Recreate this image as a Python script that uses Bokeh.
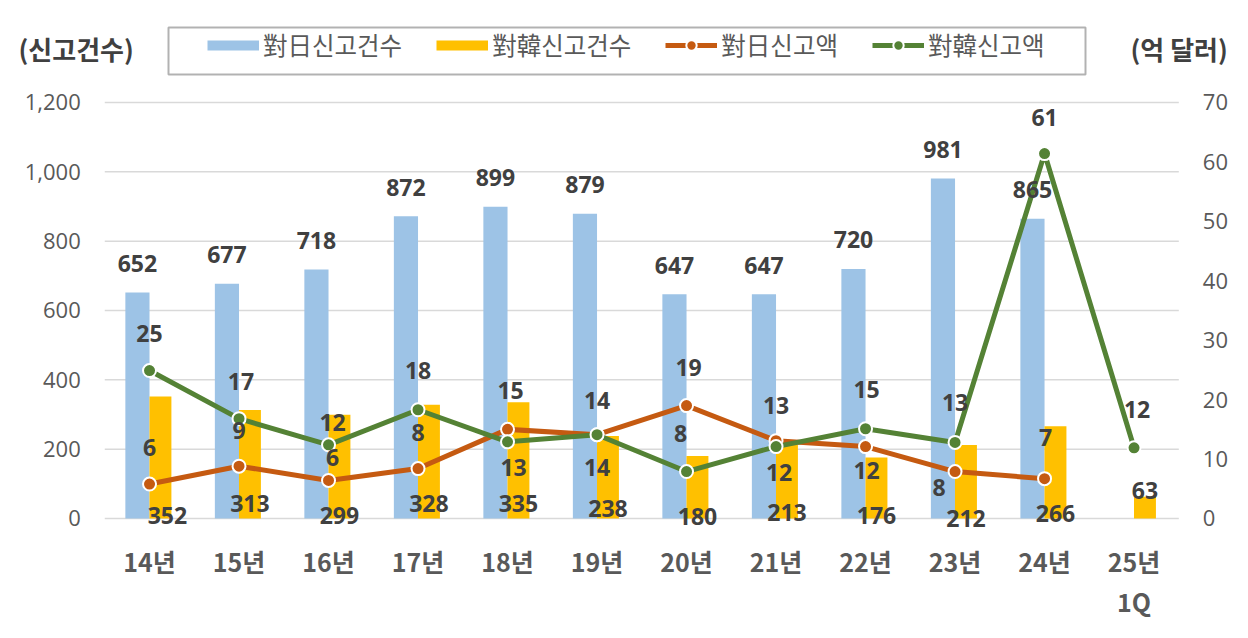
from bokeh.plotting import figure
from bokeh.models import (ColumnDataSource, Range1d, LinearAxis, NumeralTickFormatter,
                          FixedTicker, Legend, LegendItem, Label, BoxAnnotation)
from bokeh.transform import dodge
from bokeh.core.properties import value
from bokeh.embed import file_html
from bokeh.resources import INLINE

# ---------------- data ----------------
years = ["14년", "15년", "16년", "17년", "18년", "19년", "20년", "21년", "22년", "23년", "24년", "25년\n1Q"]
jp_count = [652, 677, 718, 872, 899, 879, 647, 647, 720, 981, 865]          # 對日신고건수
kr_count = [352, 313, 299, 328, 335, 238, 180, 213, 176, 212, 266, 63]     # 對韓신고건수
jp_amount = [5.8, 8.8, 6.4, 8.4, 15.0, 14.1, 19.0, 13.1, 12.1, 7.9, 6.7]   # 對日신고액 (억 달러)
kr_amount = [24.9, 16.8, 12.4, 18.3, 12.9, 14.1, 7.9, 12.1, 15.1, 12.8, 61.4, 11.9]  # 對韓신고액
left_ticks = [0, 200, 400, 600, 800, 1000, 1200]
right_ticks = [0, 10, 20, 30, 40, 50, 60, 70]
series_names = ["對日신고건수", "對韓신고건수", "對日신고액", "對韓신고액"]
left_title = "(신고건수)"
right_title = "(억 달러)"

# ---------------- label placement (style, px) ----------------
kr_count_dx = [7, 0, 0, 0, 0, 0, 0, 0, 0, 0, 0, 0]
kr_count_dy = [-3, -15, -3, -15, -15, -10, -2, -6, -3, 0, -5, -28]
jp_amt_dx = [0, 0, 4, 0, 3, 0, 2, 0, 1, -16, 1]
jp_amt_dy = [-37, -36, -23, -36, -39, -34, -38, -35, 24, 16, -41]
kr_amt_dx = [0, 2, 4, 0, 6, 0, -6, 3, 1, 0, 0, 3]
kr_amt_dy = [-37, -37, -22, -39, 26, 33, -38, 26, -39, -40, -36, -38]

BLUE = "#9DC3E6"
YELLOW = "#FFC000"
ORANGE = "#C55A11"
GREEN = "#548235"
LABEL_C = "#404040"
AXIS_C = "#595959"
GRID_C = "#D9D9D9"
KFONT = "Noto Sans CJK KR"
NFONT = "Open Sans"

N = len(years)
xs = list(range(N))

W, H = 1232, 622
p = figure(width=W, height=H, output_backend="svg", toolbar_location=None,
           x_range=Range1d(-1.665, 12.1), y_range=Range1d(-300, 1494.2),
           min_border_left=0, min_border_right=0, min_border_top=0, min_border_bottom=0)
p.extra_y_ranges = {"right": Range1d(-17.5, 87.16)}
p.outline_line_color = None
p.background_fill_color = "white"
p.border_fill_color = "white"
p.grid.visible = False

# gridlines (at the left-axis ticks, spanning the category area)
p.segment(x0=-0.5, x1=N - 0.5, y0=left_ticks, y1=left_ticks, line_color=GRID_C, line_width=1.5)

# left axis
ya = p.yaxis[0]
ya.fixed_location = -0.5
ya.ticker = FixedTicker(ticks=left_ticks)
ya.formatter = NumeralTickFormatter(format="0,0")
ya.axis_line_color = None
ya.major_tick_line_color = None
ya.major_tick_out = 0
ya.major_tick_in = 0
ya.minor_tick_line_color = None
ya.major_label_standoff = 24
ya.major_label_text_font = NFONT
ya.major_label_text_font_size = "22px"
ya.major_label_text_color = AXIS_C

# right axis
ra = LinearAxis(y_range_name="right", ticker=FixedTicker(ticks=right_ticks), fixed_location=N - 0.5)
ra.axis_line_color = None
ra.major_tick_line_color = None
ra.major_tick_out = 0
ra.major_tick_in = 0
ra.minor_tick_line_color = None
ra.major_label_standoff = 24
ra.major_label_text_font = NFONT
ra.major_label_text_font_size = "22px"
ra.major_label_text_color = AXIS_C
p.add_layout(ra, "right")

# x axis (categories)
xa = p.xaxis[0]
xa.fixed_location = 0
xa.ticker = FixedTicker(ticks=xs)
xa.major_label_overrides = {i: y for i, y in zip(xs, years)}
xa.axis_line_color = None
xa.major_tick_line_color = None
xa.major_tick_out = 0
xa.major_tick_in = 0
xa.minor_tick_line_color = None
xa.major_label_standoff = 25
xa.major_label_text_font = KFONT
xa.major_label_text_font_style = "bold"
xa.major_label_text_font_size = "25px"
xa.major_label_text_color = AXIS_C
xa.major_label_text_line_height = 1.1

# ---------------- sources ----------------
src_jp_c = ColumnDataSource(dict(x=xs[:len(jp_count)], v=jp_count, t=[str(v) for v in jp_count]))
src_kr_c = ColumnDataSource(dict(x=xs, v=kr_count, t=[str(v) for v in kr_count],
                                 zero=[0] * len(kr_count), dx=kr_count_dx, dy=kr_count_dy))
src_jp_a = ColumnDataSource(dict(x=xs[:len(jp_amount)], v=jp_amount, t=[f"{v:.0f}" for v in jp_amount],
                                 dx=jp_amt_dx, dy=jp_amt_dy))
src_kr_a = ColumnDataSource(dict(x=xs, v=kr_amount, t=[f"{v:.0f}" for v in kr_amount],
                                 dx=kr_amt_dx, dy=kr_amt_dy))

# bars
p.vbar(x=dodge("x", -0.135), top="v", width=0.27, source=src_jp_c, fill_color=BLUE, line_color=None)
p.vbar(x=dodge("x", 0.122), top="v", width=0.245, source=src_kr_c, fill_color=YELLOW, line_color=None)

# lines
l_jp = p.line(x="x", y="v", source=src_jp_a, y_range_name="right", line_color=ORANGE, line_width=5)
m_jp = p.scatter(x="x", y="v", source=src_jp_a, y_range_name="right", size=13,
                 fill_color=ORANGE, line_color="white", line_width=2)
l_kr = p.line(x="x", y="v", source=src_kr_a, y_range_name="right", line_color=GREEN, line_width=5)
m_kr = p.scatter(x="x", y="v", source=src_kr_a, y_range_name="right", size=13,
                 fill_color=GREEN, line_color="white", line_width=2)

# data labels
lab_kw = dict(text_align="center", text_baseline="middle", text_font=value(NFONT),
              text_font_style="bold", text_font_size="23px", text_color=LABEL_C)
p.text(x=dodge("x", -0.135), y="v", text="t", source=src_jp_c, y_offset=-29, **lab_kw)
p.text(x=dodge("x", 0.122), y="zero", text="t", source=src_kr_c, x_offset="dx", y_offset="dy", **lab_kw)
p.text(x="x", y="v", text="t", source=src_jp_a, y_range_name="right", x_offset="dx", y_offset="dy", **lab_kw)
p.text(x="x", y="v", text="t", source=src_kr_a, y_range_name="right", x_offset="dx", y_offset="dy", **lab_kw)

# legend (bar swatches drawn from thick, data-less lines)
nan = float("nan")
sw_blue = p.line(x=[nan], y=[nan], line_color=BLUE, line_width=10)
sw_yel = p.line(x=[nan], y=[nan], line_color=YELLOW, line_width=10)
legend = Legend(items=[
    LegendItem(label=series_names[0], renderers=[sw_blue]),
    LegendItem(label=series_names[1], renderers=[sw_yel]),
    LegendItem(label=series_names[2], renderers=[l_jp, m_jp]),
    LegendItem(label=series_names[3], renderers=[l_kr, m_kr]),
], orientation="horizontal", location=(207, H - 62), padding=0, margin=0, spacing=34,
    label_standoff=4, glyph_width=52, glyph_height=26, label_height=26,
    border_line_alpha=0, background_fill_alpha=0,
    label_text_font=KFONT, label_text_font_size="24.5px", label_text_color=AXIS_C)
p.add_layout(legend)

box = BoxAnnotation(left=168, right=1085, bottom=H - 74, top=H - 27,
                    left_units="screen", right_units="screen", bottom_units="screen", top_units="screen",
                    fill_alpha=0, line_color="black", line_width=2)
p.add_layout(box)

# axis titles
title_kw = dict(x_units="screen", y_units="screen", text_baseline="middle", text_font=KFONT,
                text_font_style="bold", text_font_size="26px", text_color=LABEL_C)
p.add_layout(Label(x=18, y=H - 48, text=left_title, **title_kw))
p.add_layout(Label(x=1130, y=H - 48, text=right_title, **title_kw))

open("out.html", "w").write(file_html(p, INLINE))
